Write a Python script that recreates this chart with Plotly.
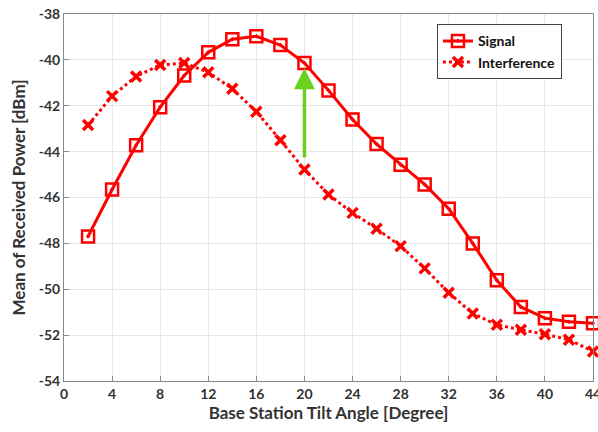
import plotly.graph_objects as go

tilt = [2, 4, 6, 8, 10, 12, 14, 16, 18, 20, 22, 24, 26, 28, 30, 32, 34, 36, 38, 40, 42, 44]
signal = [-47.7, -45.65, -43.72, -42.06, -40.68, -39.67, -39.1, -38.97, -39.35, -40.14, -41.33,
          -42.6, -43.67, -44.57, -45.43, -46.49, -48.0, -49.61, -50.77, -51.26, -51.42, -51.48]
interference = [-42.84, -41.58, -40.72, -40.22, -40.14, -40.54, -41.26, -42.26, -43.5, -44.78, -45.87,
                -46.67, -47.36, -48.12, -49.09, -50.15, -51.06, -51.55, -51.77, -51.96, -52.2, -52.71]
x_ticks = [0, 4, 8, 12, 16, 20, 24, 28, 32, 36, 40, 44]
y_ticks = [-38, -40, -42, -44, -46, -48, -50, -52, -54]
y_tick_labels = ["-38", "-40", "-42", "-44", "-46", "-48", "-50", "-52", "-54"]
arrow_x = 20
arrow_from = -44.32
arrow_to = -40.36

FONT = "Lato"
RED = "#ff0000"

fig = go.Figure()
fig.add_trace(go.Scatter(
    x=tilt, y=signal, name="<b>Signal</b>", mode="lines+markers",
    line=dict(color=RED, width=3),
    marker=dict(symbol="square-open-dot", size=12, color=RED, line=dict(width=2.5, color=RED)),
    cliponaxis=False,
))
fig.add_trace(go.Scatter(
    x=tilt, y=interference, name="<b>Interference</b>", mode="lines+markers",
    line=dict(color=RED, width=3, dash="dot"),
    marker=dict(symbol="x-thin-open", size=10, color=RED, line=dict(width=3.5, color=RED)),
    cliponaxis=False,
))

fig.add_annotation(
    x=arrow_x, y=arrow_to, ax=arrow_x, ay=arrow_from,
    xref="x", yref="y", axref="x", ayref="y",
    showarrow=True, arrowhead=2, arrowsize=1.2, arrowwidth=3.5, arrowcolor="#6ad21e", text="",
)

axis_common = dict(
    showgrid=True, gridcolor="#e6e6e6", gridwidth=1,
    showline=True, linecolor="#888888", linewidth=1, mirror=True,
    ticks="inside", ticklen=5, tickcolor="#888888",
    tickfont=dict(family=FONT, size=14, color="#333333", weight="bold"),
    zeroline=False, automargin=False, ticklabeloverflow="allow",
)

fig.update_layout(
    width=598, height=432,
    margin=dict(l=64, r=5, t=14, b=51),
    paper_bgcolor="white", plot_bgcolor="white",
    font=dict(family=FONT, color="#222222"),
    xaxis=dict(range=[0, 44], tickvals=x_ticks,
               title=dict(text="<b>Base Station Tilt Angle [Degree]</b>", font=dict(family=FONT, size=17, color="#333333"), standoff=6),
               **axis_common),
    yaxis=dict(range=[-54, -38], tickvals=y_ticks, ticktext=y_tick_labels,
               title=dict(text="<b>Mean of Received Power [dBm]</b>", font=dict(family=FONT, size=17, color="#333333"), standoff=8),
               **axis_common),
    legend=dict(x=0.705, y=0.972, xanchor="left", yanchor="top",
                bgcolor="white", bordercolor="#444444", borderwidth=1,
                font=dict(family=FONT, size=14, color="#111111"),
                tracegroupgap=0),
)

fig.write_html("out.html", config={"displayModeBar": False},
               post_script="document.body.style.margin='0';")
